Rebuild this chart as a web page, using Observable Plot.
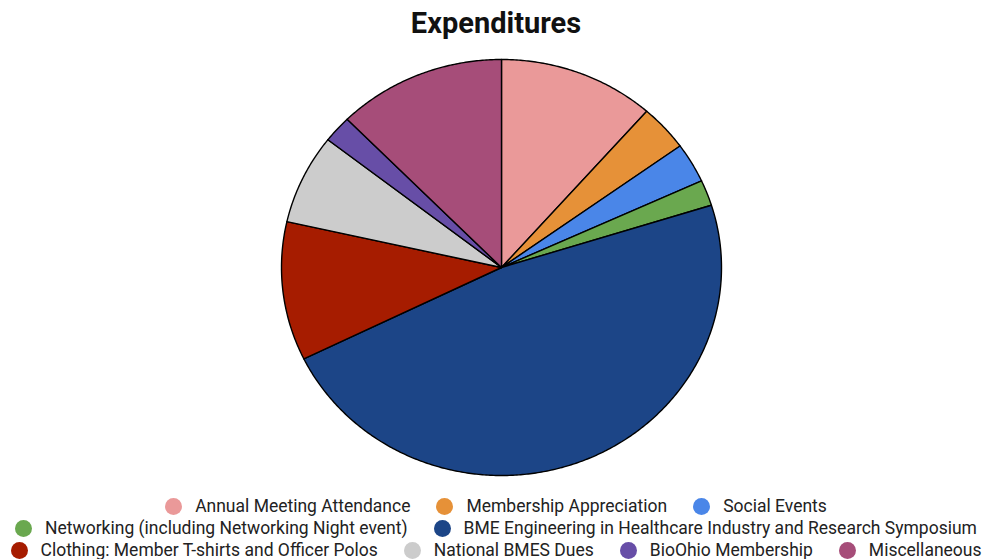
<!DOCTYPE html>
<html>
<head>
<meta charset="utf-8">
<script src="https://cdn.jsdelivr.net/npm/d3@7"></script>
<script src="https://cdn.jsdelivr.net/npm/@observablehq/plot@0.6"></script>
<style>
  html, body { margin: 0; padding: 0; background: #fff; }
  body { width: 992px; height: 559px; overflow: hidden; font-family: Roboto, "Noto Sans", sans-serif; }
  #title { height: 48px; line-height: 47px; text-align: center; font-weight: 700; font-size: 29px; color: #111; }
  #chart { height: 440px; }
  #legend { padding-top: 7px; font-size: 17.5px; color: #222; }
  .row { display: flex; justify-content: center; height: 22px; line-height: 22px; white-space: nowrap; }
  .item { display: flex; align-items: center; margin: 0 13px; }
  .sw { width: 17px; height: 17px; border-radius: 50%; margin-right: 13px; flex: none; }
</style>
</head>
<body>
<div id="title">Expenditures</div>
<div id="chart"></div>
<div id="legend"></div>
<script>
const categories = [
  "Annual Meeting Attendance",
  "Membership Appreciation",
  "Social Events",
  "Networking (including Networking Night event)",
  "BME Engineering in Healthcare Industry and Research Symposium",
  "Clothing: Member T-shirts and Officer Polos",
  "National BMES Dues",
  "BioOhio Membership",
  "Miscellaneous"
];
const values = [11.5, 3.6, 3.1, 2.0, 47.7, 10.8, 7.0, 2.1, 12.4];
const colors = ["#ea9999", "#e69138", "#4a86e8", "#6aa84f", "#1c4587", "#a61c00", "#cccccc", "#674ea7", "#a64d79"];
const legendRows = [[0, 1, 2], [3, 4], [5, 6, 7, 8]];

// Build slice outlines (data coordinates on a unit circle) from the values
const total = d3.sum(values);
const pts = [];
let acc = 0;
categories.forEach((cat, i) => {
  const a0 = acc / total * 2 * Math.PI;
  acc += values[i];
  const a1 = acc / total * 2 * Math.PI;
  const n = Math.max(2, Math.ceil((a1 - a0) / (Math.PI / 360)));
  pts.push({cat, color: colors[i], x: 0, y: 0});
  for (let k = 0; k <= n; k++) {
    const a = a0 + (a1 - a0) * k / n;
    pts.push({cat, color: colors[i], x: Math.sin(a), y: Math.cos(a)});
  }
  pts.push({cat, color: colors[i], x: 0, y: 0});
});

const chart = Plot.plot({
  width: 992,
  height: 440,
  margin: 0,
  x: {domain: [-1, 1], range: [281, 721], axis: null},
  y: {domain: [-1, 1], range: [427, 11], axis: null},
  color: {type: "identity"},
  marks: [
    Plot.line(pts, {x: "x", y: "y", z: "cat", fill: "color", stroke: "#000", strokeWidth: 1.4, strokeLinejoin: "round", curve: "linear"})
  ]
});
document.getElementById("chart").appendChild(chart);

const legend = document.getElementById("legend");
legendRows.forEach(row => {
  const r = document.createElement("div");
  r.className = "row";
  row.forEach(i => {
    const it = document.createElement("div");
    it.className = "item";
    const sw = document.createElement("span");
    sw.className = "sw";
    sw.style.background = colors[i];
    const t = document.createElement("span");
    t.textContent = categories[i];
    it.appendChild(sw);
    it.appendChild(t);
    r.appendChild(it);
  });
  legend.appendChild(r);
});
</script>
</body>
</html>
